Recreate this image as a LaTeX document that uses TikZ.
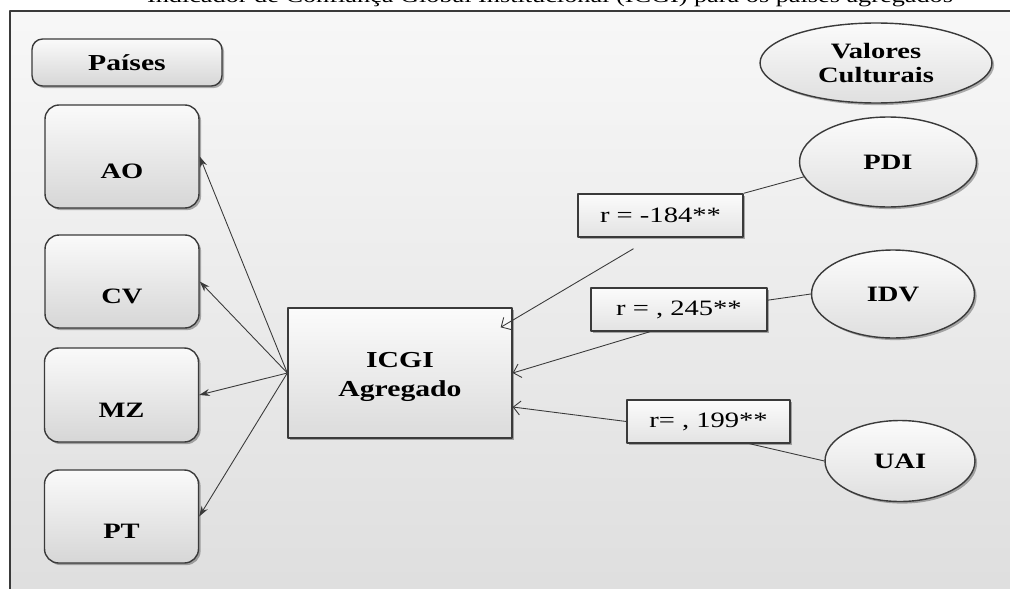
\documentclass[tikz,border=0pt]{standalone}
\usepackage{fontspec}
\setmainfont[FakeStretch=1.3]{Liberation Serif}
\usepackage{tikz}
\usetikzlibrary{arrows.meta,positioning,calc,shapes.geometric,shadows}
\definecolor{linha}{HTML}{3A3A3A}
\tikzset{
  sombra/.style={drop shadow={shadow xshift=1.2pt,shadow yshift=-1.2pt,opacity=0.3,fill=black}},
  paisbox/.style={draw=linha,line width=0.8pt,rounded corners=8pt,top color=gray!4,bottom color=gray!32,sombra,minimum width=3.08cm,inner sep=0pt},
  valor/.style={ellipse,draw=linha,line width=0.8pt,top color=gray!3,bottom color=gray!25,sombra,font=\bfseries\fontsize{12.5}{14}\selectfont,inner sep=0pt,align=center},
  rbox/.style={draw=linha,line width=0.8pt,top color=gray!3,bottom color=gray!22,sombra,font=\fontsize{12.5}{14}\selectfont,minimum height=0.86cm,inner sep=0pt},
  saida/.style={-{Stealth[length=6pt,width=4pt]},linha,line width=0.5pt},
  entrada/.style={-{Straight Barb[length=4pt,width=8pt]},linha,line width=0.5pt},
}
\newcommand\caixapais[4]
{
\node[paisbox,minimum height=#3] (#1) at #2 {};
\node[font=\bfseries\fontsize{12.5}{14}\selectfont] (#1txt) at ($(#1)+(0,15)$) {#4};
}

\begin{document}
\begin{tikzpicture}[x=0.02cm,y=-0.02cm,line join=round]
\useasboundingbox (0,0) rectangle (1010,588);
\clip (0,0) rectangle (1010,588);
\fill[white] (0,0) rectangle (1010,588);
\node[font=\fontsize{11.5}{14}\selectfont,anchor=base] (legenda) at (550,2.5) {Indicador de Confiança Global Institucional (ICGI) para os países agregados};
\draw[linha,line width=1pt,top color=gray!6,bottom color=gray!26] (10,11) rectangle (1030,610);
% paises
\node[paisbox,rounded corners=6pt,minimum width=3.8cm,minimum height=0.94cm,font=\bfseries\fontsize{13}{14}\selectfont] (paises) at (127,62.5) {Países};
\caixapais{ao}{(122,156.5)}{2.06cm}{AO}
\caixapais{cv}{(122,281.5)}{1.86cm}{CV}
\caixapais{mz}{(121.5,395)}{1.88cm}{MZ}
\caixapais{pt}{(121.5,516.5)}{1.86cm}{PT}
\node[draw=linha,line width=0.8pt,top color=gray!3,bottom color=gray!28,sombra,minimum width=4.48cm,minimum height=2.6cm] (icgi) at (400,373) {};
\node[align=center,font=\bfseries\fontsize{13}{17}\selectfont] (icgitxt) at ($(icgi)+(0,4)$) {ICGI\\Agregado};
% valores culturais
\node[valor,minimum width=4.64cm,minimum height=1.6cm] (valores) at (876,63) {Valores\\Culturais};
\node[valor,minimum width=3.54cm,minimum height=1.8cm] (pdi) at (888,162) {PDI};
\node[valor,minimum width=3.26cm,minimum height=1.76cm] (idv) at (893,294) {IDV};
\node[valor,minimum width=3.0cm,minimum height=1.62cm] (uai) at (900,461) {UAI};
\node[rbox,minimum width=3.3cm] (rpdi) at (660.5,215.5) {r = -184**};
\node[rbox,minimum width=3.52cm] (ridv) at (679,309.5) {r = , 245**};
\node[rbox,minimum width=3.26cm] (ruai) at (708.5,421.5) {r= , 199**};
\foreach \p in {ao,cv,mz,pt}
  \draw[saida] (icgi.west) -- (\p.east);
\coordinate (pdiini) at ($(rpdi.south)+(-27,11)$);
\coordinate (pdifim) at ($(icgi.north east)+(-12,20)$);
\draw[linha,line width=0.5pt] (pdi.190) -- (rpdi.north east);
\draw[entrada] (pdiini) -- (pdifim);
\draw[linha,line width=0.5pt] (idv.west) -- (ridv.6);
\draw[entrada] ($(ridv.south)+(-29,0)$) -- (icgi.east);
\draw[linha,line width=0.5pt] (uai.west) -- ($(ruai.south)+(41,0)$);
\draw[entrada] (ruai.west) -- ($(icgi.east)+(0,34)$);
\end{tikzpicture}
\end{document}
